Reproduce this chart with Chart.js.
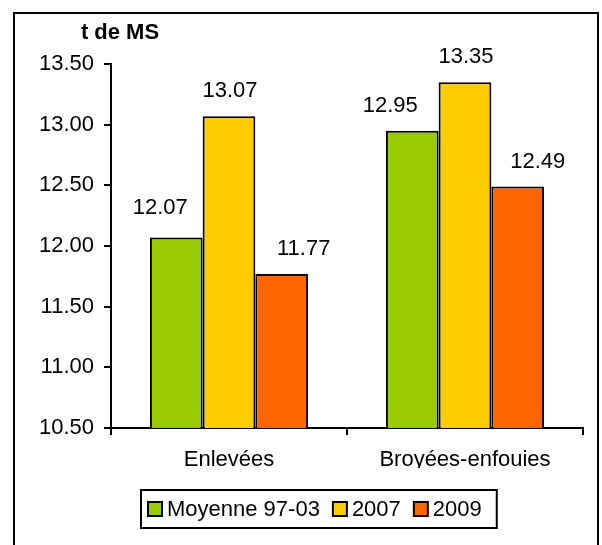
<!DOCTYPE html>
<html>
<head>
<meta charset="utf-8">
<script src="https://cdn.jsdelivr.net/npm/chart.js@4"></script>
<style>
  body { margin: 0; background: #fff; }
  #wrap { position: relative; width: 602px; height: 545px; }
</style>
</head>
<body>
<div id="wrap"><canvas id="myChart" width="602" height="545"></canvas></div>
<script>
var categories = ['Enlevées', 'Broyées-enfouies'];
var seriesNames = ['Moyenne 97-03', '2007', '2009'];
var moyenne = [12.07, 12.95];
var an2007 = [13.07, 13.35];
var an2009 = [11.77, 12.49];
var yTicks = [10.5, 11.0, 11.5, 12.0, 12.5, 13.0, 13.5];

var colors = ['#99cc00', '#ffcc00', '#ff6600'];
var font = "'Liberation Sans', Arial, sans-serif";

// label nudges, per dataset then per category (x, y in px)
var labelNudge = [
  [[-16, -5], [-22, 0]],
  [[1, 0], [1, 0]],
  [[22, 0], [20, 0]]
];

var decor = {
  id: 'decor',
  afterDraw: function (chart) {
    var ctx = chart.ctx;
    ctx.save();
    // outer frame
    ctx.strokeStyle = '#000';
    ctx.lineWidth = 2;
    ctx.strokeRect(14, 13, 584, 545);
    // unit title
    ctx.fillStyle = '#000';
    ctx.font = 'bold 22px ' + font;
    ctx.textAlign = 'center';
    ctx.textBaseline = 'middle';
    ctx.fillText('t de MS', 120, 33);
    // value labels
    ctx.font = '22px ' + font;
    chart.data.datasets.forEach(function (ds, i) {
      chart.getDatasetMeta(i).data.forEach(function (bar, j) {
        var n = labelNudge[i][j];
        ctx.fillText(ds.data[j].toFixed(2), bar.x + n[0], bar.y - 25 + n[1]);
      });
    });
    // legend
    var lx = 141, ly = 490, lh = 38;
    var x = lx + 7;
    var cy = ly + lh / 2;
    ctx.textAlign = 'left';
    chart.data.datasets.forEach(function (ds, i) {
      ctx.fillStyle = ds.backgroundColor;
      ctx.fillRect(x, cy - 7, 14, 14);
      ctx.lineWidth = 2;
      ctx.strokeRect(x, cy - 7, 14, 14);
      x += 14 + 5;
      ctx.fillStyle = '#000';
      ctx.fillText(ds.label, x, cy + 1);
      x += ctx.measureText(ds.label).width + 13;
    });
    ctx.lineWidth = 2;
    ctx.strokeRect(lx, ly, x - 13 + 15 - lx, lh);
    ctx.restore();
  }
};

new Chart(document.getElementById('myChart'), {
  type: 'bar',
  data: {
    labels: categories,
    datasets: [
      { label: seriesNames[0], data: moyenne, backgroundColor: colors[0] },
      { label: seriesNames[1], data: an2007, backgroundColor: colors[1] },
      { label: seriesNames[2], data: an2009, backgroundColor: colors[2] }
    ]
  },
  options: {
    responsive: false,
    animation: false,
    devicePixelRatio: 1,
    layout: { padding: { left: 0, right: 19, top: 64, bottom: 77 } },
    datasets: {
      bar: {
        categoryPercentage: 0.67,
        barPercentage: 1.0,
        borderColor: '#000',
        borderWidth: 2,
        borderSkipped: 'bottom'
      }
    },
    scales: {
      x: {
        offset: true,
        grid: { offset: true, drawOnChartArea: false, color: '#000', tickLength: 7, lineWidth: 2 },
        border: { color: '#000', width: 2 },
        ticks: { color: '#000', font: { family: font, size: 22 }, padding: 12 },
        afterFit: function (s) { s.height = 40; }
      },
      y: {
        min: 10.5,
        max: 13.5,
        afterBuildTicks: function (s) { s.ticks = yTicks.map(function (v) { return { value: v }; }); },
        grid: { drawOnChartArea: false, color: '#000', tickLength: 7, lineWidth: 2 },
        border: { color: '#000', width: 2 },
        ticks: {
          color: '#000',
          font: { family: font, size: 22 },
          padding: 10,
          callback: function (v) { return Number(v).toFixed(2); }
        },
        afterFit: function (s) { s.width = 111; }
      }
    },
    plugins: {
      tooltip: { enabled: false },
      legend: { display: false }
    }
  },
  plugins: [decor]
});
</script>
</body>
</html>
